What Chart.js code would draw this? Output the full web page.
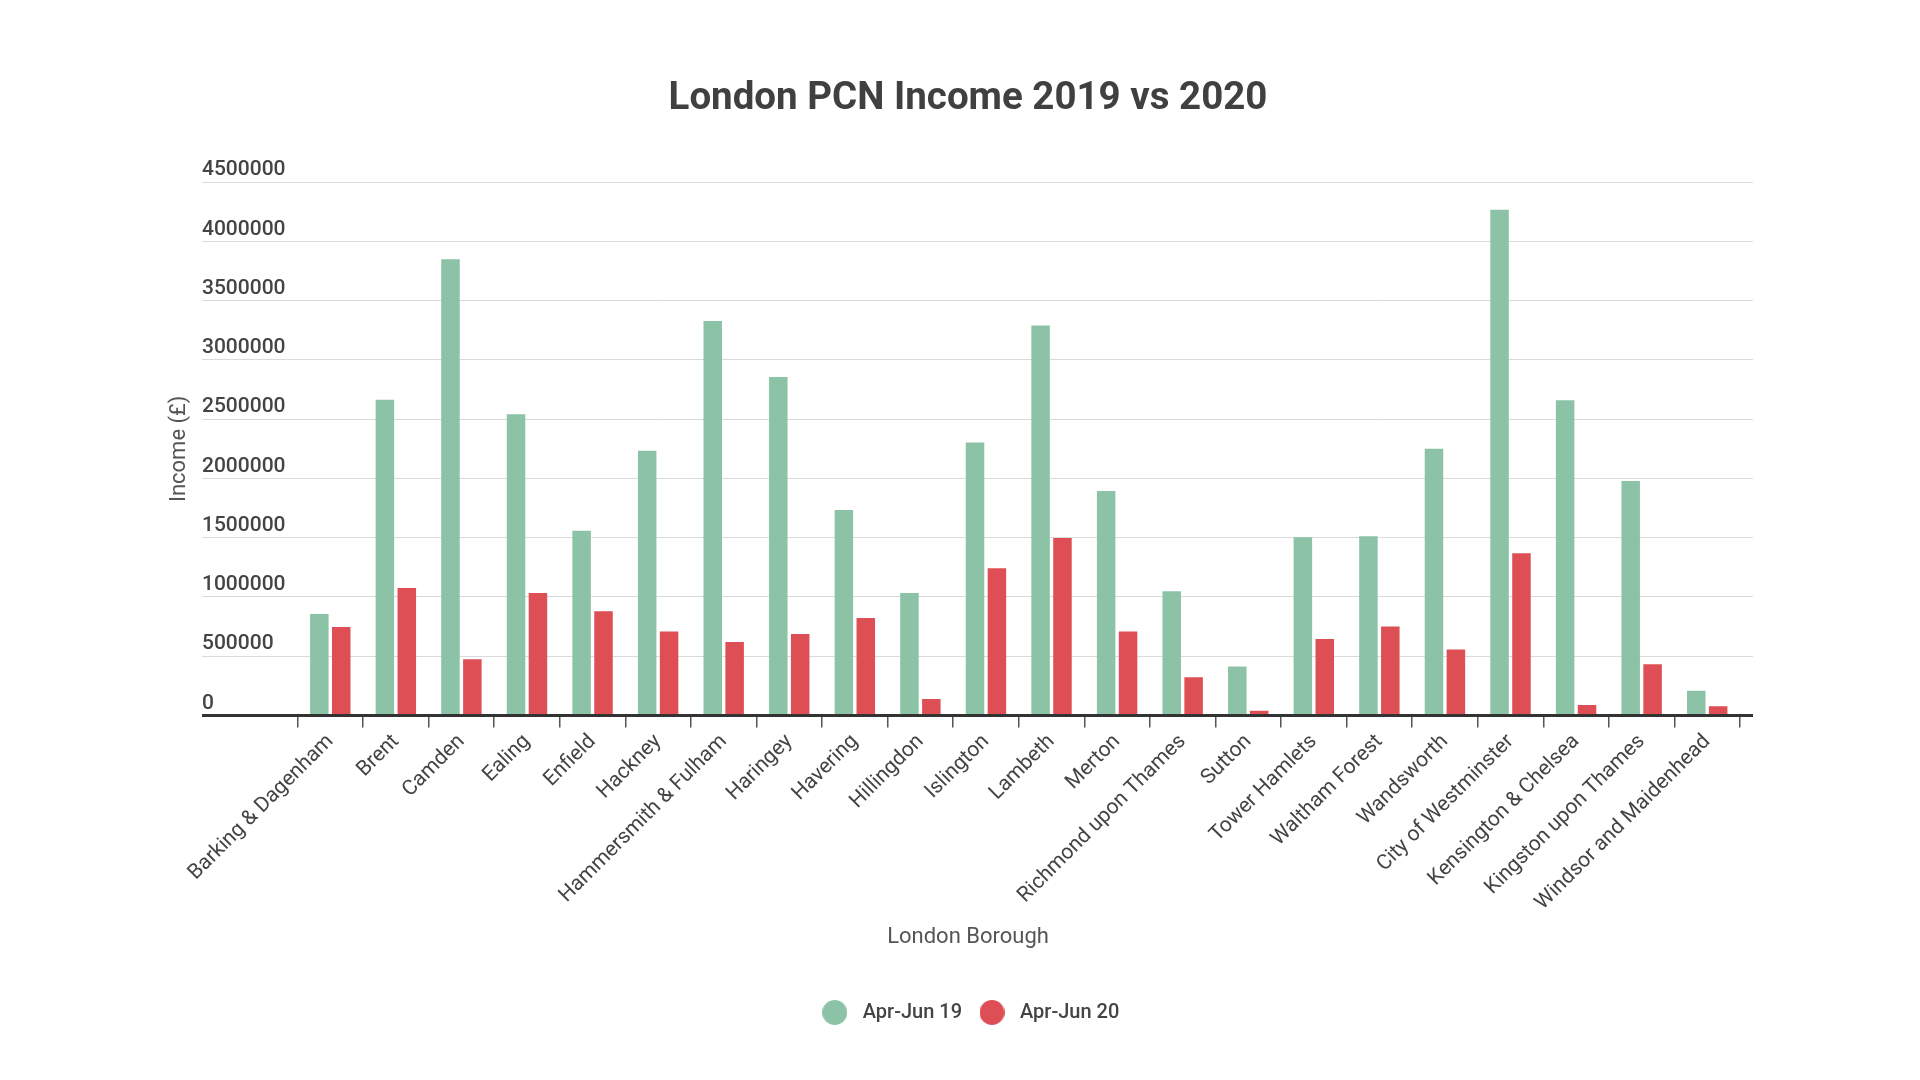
<!DOCTYPE html>
<html><head><meta charset="utf-8">
<script src="https://cdn.jsdelivr.net/npm/chart.js@4.4.1/dist/chart.umd.min.js"></script>
<style>html,body{margin:0;padding:0;background:#fff;} canvas{display:block;}</style>
</head><body>
<canvas id="c" width="1920" height="1080"></canvas>
<script>
const chartTitle = 'London PCN Income 2019 vs 2020';
const xAxisTitle = 'London Borough';
const yAxisTitle = 'Income (£)';
const seriesNames = ['Apr-Jun 19', 'Apr-Jun 20'];
const boroughs = ['Barking & Dagenham', 'Brent', 'Camden', 'Ealing', 'Enfield', 'Hackney',
  'Hammersmith & Fulham', 'Haringey', 'Havering', 'Hillingdon', 'Islington', 'Lambeth', 'Merton',
  'Richmond upon Thames', 'Sutton', 'Tower Hamlets', 'Waltham Forest', 'Wandsworth',
  'City of Westminster', 'Kensington & Chelsea', 'Kingston upon Thames', 'Windsor and Maidenhead'];
const aprJun19 = [856000, 2663000, 3850000, 2541000, 1559000, 2234000, 3328000, 2856000, 1734000, 1034000,
  2303000, 3291000, 1894000, 1047000, 413000, 1503000, 1512000, 2250000, 4268000, 2659000, 1978000, 209000];
const aprJun20 = [747000, 1075000, 473000, 1032000, 878000, 709000, 619000, 688000, 822000, 138000,
  1241000, 1497000, 709000, 322000, 40000, 644000, 750000, 557000, 1368000, 87000, 432000, 78000];
const yTickValues = [0, 500000, 1000000, 1500000, 2000000, 2500000, 3000000, 3500000, 4000000, 4500000];
const seriesColors = ['#8CC3A6', '#DE4F55'];

const FONT = 'Roboto';
const GRID = '#dadada';
const AXIS = '#333333';

function legendDot(color) {
  const c = document.createElement('canvas');
  c.width = 25; c.height = 25;
  const g = c.getContext('2d');
  g.fillStyle = color;
  g.beginPath(); g.arc(12.5, 12.5, 12.5, 0, Math.PI * 2); g.fill();
  return c;
}
const setTicks = s => { s.ticks = yTickValues.map(v => ({ value: v })); };
const isZero = c => c.tick && c.tick.value === 0;
const lineCol = c => isZero(c) ? AXIS : GRID;
const lineW = c => isZero(c) ? 3 : 1;

new Chart(document.getElementById('c'), {
  type: 'bar',
  data: {
    labels: boroughs,
    datasets: [
      { label: seriesNames[0], data: aprJun19, backgroundColor: seriesColors[0], pointStyle: legendDot(seriesColors[0]),
        yAxisID: 'y', barPercentage: 0.845, categoryPercentage: 0.668 },
      { label: seriesNames[1], data: aprJun20, backgroundColor: seriesColors[1], pointStyle: legendDot(seriesColors[1]),
        yAxisID: 'y', barPercentage: 0.845, categoryPercentage: 0.668 }
    ]
  },
  options: {
    responsive: false, devicePixelRatio: 1, animation: false,
    layout: { padding: { left: 166, right: 150, top: 0, bottom: 47.5 } },
    plugins: {
      title: { display: true, text: chartTitle, color: '#404040',
        font: { family: FONT, size: 38.5, weight: 'bold' }, padding: { top: 76, bottom: 60 } },
      subtitle: { display: true, position: 'bottom', text: xAxisTitle, color: '#555555', weight: 500,
        font: { family: FONT, size: 22, weight: 'normal' }, padding: { top: 8.4, bottom: 40.3 } },
      legend: { position: 'bottom', weight: 1000,
        labels: { usePointStyle: true, pointStyleWidth: 36, boxWidth: 36, boxHeight: 17, padding: 12, color: '#444444',
          font: { family: FONT, size: 20, weight: '500' } } },
      tooltip: { enabled: false }
    },
    scales: {
      x: {
        grid: { display: true, offset: true, drawOnChartArea: false, drawTicks: true, tickLength: 12,
          color: '#555555', lineWidth: 1.5 },
        border: { display: true, color: AXIS, width: 3, z: 1 },
        ticks: { autoSkip: false, maxRotation: 45, minRotation: 45, padding: 2, color: '#444444',
          font: { family: FONT, size: 21 } },
        afterFit: s => { s.height = 200; }
      },
      y: {
        position: 'left', weight: 0, min: 0, max: 4500000, afterBuildTicks: setTicks,
        grid: { color: lineCol, lineWidth: lineW, tickColor: lineCol, tickWidth: lineW, tickLength: 95.5, drawTicks: true },
        border: { display: false },
        ticks: { crossAlign: 'far', labelOffset: -12, padding: 0, color: '#444444',
          font: { family: FONT, size: 21, weight: '500' }, callback: v => String(v) },
        afterFit: s => { s.width = 95.5; }
      },
      yTitleAxis: {
        type: 'linear', position: 'left', weight: 1,
        grid: { display: false }, border: { display: false }, ticks: { display: false },
        title: { display: true, text: yAxisTitle, color: '#555555', font: { family: FONT, size: 22 }, padding: 0 },
        afterFit: s => { s.width = 36; }
      },
      y2: {
        type: 'linear', position: 'right', min: 0, max: 4500000, afterBuildTicks: setTicks,
        grid: { drawOnChartArea: false, drawTicks: true, tickLength: 13, color: lineCol, lineWidth: lineW,
          tickColor: lineCol, tickWidth: lineW },
        border: { display: false }, ticks: { display: false },
        afterFit: s => { s.width = 30; }
      }
    }
  }
});
</script>
</body></html>
